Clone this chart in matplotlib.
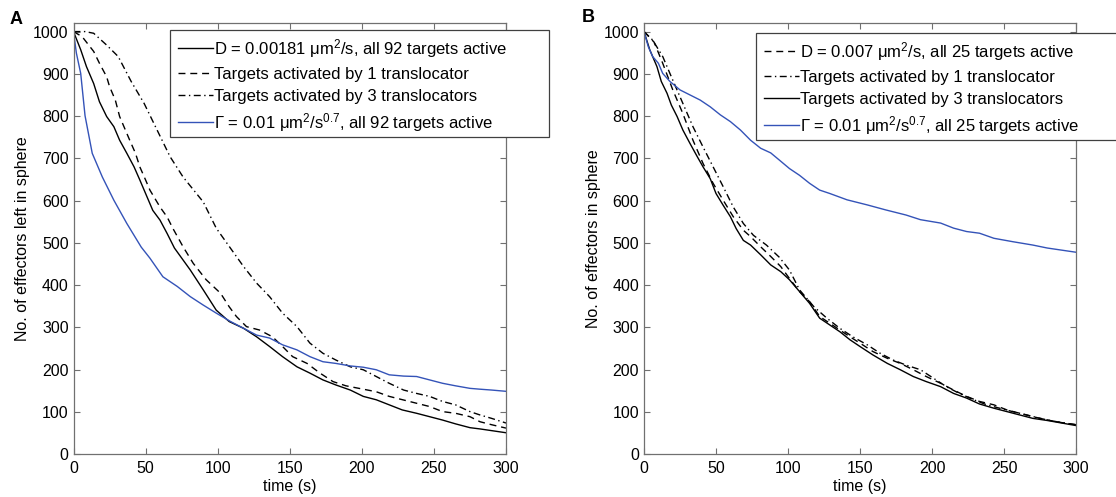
"""
  Effectors left in sphere over time, panels A and B.
"""

import matplotlib
matplotlib.use("Agg")
from matplotlib import pyplot as plt
from matplotlib.patches import Rectangle

plt.rcParams['font.family'] = ['Liberation Sans', 'DejaVu Sans']
plt.rcParams['mathtext.fontset'] = 'custom'
plt.rcParams['mathtext.rm'] = 'Liberation Sans'
plt.rcParams['mathtext.it'] = 'Liberation Sans:italic'
plt.rcParams['mathtext.bf'] = 'Liberation Sans:bold'

BLUE = '#3453b8'
W, H = 1116, 497

# ---- Panel A data (time in s, effectors left) ----
a_d_t = [0, 5, 9, 14, 18, 23, 28, 32, 37, 42, 46, 51, 55, 60, 65, 70, 81,
         90, 99, 108, 118, 127, 136, 145, 155, 164, 173, 182, 192, 201, 210,
         219, 228, 238, 247, 256, 265, 275, 282, 290, 300]
a_d_v = [1000, 957, 917, 877, 834, 799, 775, 743, 712, 680, 649, 609, 577,
         554, 522, 488, 436, 389, 341, 314, 298, 278, 255, 231, 207, 192, 176,
         164, 152, 137, 129, 117, 105, 97, 89, 81, 72, 63, 60, 56, 51]

a_one_t = [0, 6, 14, 18, 23, 25, 29, 32, 36, 39, 43, 46, 50, 53, 60, 65, 69,
           76, 83, 92, 102, 108, 113, 120, 129, 138, 145, 152, 162, 171, 180,
           189, 198, 210, 219, 233, 247, 256, 265, 275, 282, 290, 300]
a_one_v = [1000, 988, 953, 925, 893, 870, 838, 799, 767, 743, 712, 680, 649,
           625, 585, 561, 534, 491, 452, 413, 381, 349, 326, 302, 294, 278,
           255, 231, 215, 192, 172, 162, 156, 148, 137, 125, 113, 101, 97, 89,
           77, 70, 62]

a_three_t = [0, 8, 14, 23, 31, 40, 49, 58, 67, 76, 90, 99, 109, 118, 127,
             136, 145, 155, 164, 173, 182, 192, 201, 210, 219, 229, 238, 247,
             256, 265, 275, 282, 290, 300]
a_three_v = [1000, 1000, 996, 968, 941, 882, 830, 767, 704, 656, 597, 535,
             487, 444, 405, 373, 334, 302, 263, 239, 223, 207, 200, 184, 168,
             152, 144, 137, 125, 117, 101, 93, 85, 74]

a_gam_t = [0, 2, 5, 8, 13, 20, 28, 37, 47, 53, 62, 72, 81, 90, 99, 109, 118,
           127, 136, 145, 155, 164, 173, 182, 192, 201, 210, 219, 229, 238,
           247, 256, 265, 275, 282, 290, 300]
a_gam_v = [1000, 949, 901, 801, 712, 656, 601, 546, 490, 464, 420, 397, 373,
           353, 334, 314, 298, 282, 275, 259, 247, 231, 219, 215, 209, 206,
           200, 188, 185, 184, 176, 168, 162, 156, 154, 152, 149]

# ---- Panel B data ----
b_d_t = [0, 7, 13, 20, 27, 34, 41, 48, 55, 62, 69, 74, 81, 88, 95, 101, 108,
         115, 122, 129, 136, 143, 150, 159, 169, 178, 187, 196, 206, 215, 224,
         233, 243, 252, 261, 270, 282, 290, 300]
b_d_v = [1000, 975, 925, 862, 806, 743, 688, 641, 601, 562, 530, 515, 491,
         468, 444, 416, 385, 361, 326, 310, 294, 278, 263, 243, 227, 215, 200,
         184, 168, 152, 137, 125, 117, 105, 97, 89, 80, 75, 70]

b_one_t = [0, 6, 13, 20, 27, 34, 41, 48, 55, 62, 69, 76, 85, 94, 101, 108,
           118, 127, 136, 145, 155, 164, 173, 182, 192, 201, 210, 219, 229,
           238, 247, 256, 266, 275, 282, 290, 300]
b_one_v = [1000, 980, 941, 885, 830, 775, 727, 680, 633, 585, 546, 518, 495,
           466, 436, 389, 349, 322, 298, 278, 259, 239, 223, 211, 200, 180,
           160, 144, 129, 117, 109, 101, 93, 85, 80, 75, 70]

b_three_t = [0, 4, 9, 12, 16, 19, 23, 27, 32, 37, 41, 46, 50, 55, 60, 64, 69,
             74, 81, 88, 95, 101, 108, 115, 122, 129, 136, 143, 150, 159, 169,
             178, 187, 196, 206, 215, 224, 233, 243, 252, 261, 270, 280, 290,
             300]
b_three_v = [1000, 957, 917, 882, 854, 826, 799, 767, 735, 704, 680, 652, 617,
             589, 562, 534, 506, 495, 472, 448, 432, 413, 385, 357, 322, 306,
             290, 271, 255, 235, 215, 200, 184, 172, 160, 144, 133, 119, 109,
             101, 93, 85, 80, 74, 68]

b_gam_t = [0, 3, 6, 10, 13, 18, 25, 32, 39, 46, 53, 60, 67, 74, 81, 88, 94,
           101, 108, 115, 122, 129, 141, 155, 168, 182, 192, 206, 215, 224,
           233, 243, 256, 270, 280, 290, 300]
b_gam_v = [1000, 964, 941, 925, 901, 882, 862, 850, 838, 822, 803, 787, 767,
           743, 724, 713, 696, 676, 660, 641, 625, 617, 602, 590, 578, 566,
           555, 547, 535, 527, 523, 511, 503, 495, 488, 483, 478]

x_ticks = [0, 50, 100, 150, 200, 250, 300]
y_ticks = [0, 100, 200, 300, 400, 500, 600, 700, 800, 900, 1000]

a_labels = [r'D = 0.00181 μm$^2$/s, all 92 targets active',
            'Targets activated by 1 translocator',
            'Targets activated by 3 translocators',
            r'Γ = 0.01 μm$^2$/s$^{0.7}$, all 92 targets active']
b_labels = [r'D = 0.007 μm$^2$/s, all 25 targets active',
            'Targets activated by 1 translocator',
            'Targets activated by 3 translocators',
            r'Γ = 0.01 μm$^2$/s$^{0.7}$, all 25 targets active']

DASH = (0, (5, 3.5))
DASHDOT = (0, (5, 2.5, 1, 2.5))
LW = 1.0


def style_axis(axis, ylabel):
    """
        Matlab-ish box axes with inward ticks on all sides
    """
    axis.set_xlim(0, 300)
    axis.set_ylim(0, 1021)
    axis.set_xticks(x_ticks)
    axis.set_yticks(y_ticks)
    axis.tick_params(direction='in', length=4, width=0.8, color='#707070',
                     top=True, right=True, labelsize=11.5, labelcolor='black')
    axis.tick_params(axis='x', pad=5)
    axis.tick_params(axis='y', pad=3.5)
    for spine in axis.spines.values():
        spine.set_color('#707070')
        spine.set_linewidth(0.9)
    axis.set_xlabel('time (s)', fontsize=11.5, labelpad=2)
    axis.set_ylabel(ylabel, fontsize=11.5, labelpad=2)


def boxed_legend(fig, handles, labels, box):
    """
        Legend drawn on the figure with a hand-sized frame
        box = (left, top, right, bottom) in pixels from top-left
    """
    left, top, right, bottom = box
    fig.add_artist(Rectangle((left / W, 1 - bottom / H), (right - left) / W,
                             (bottom - top) / H, transform=fig.transFigure,
                             facecolor='white', edgecolor='#404040',
                             linewidth=0.9, zorder=3, clip_on=False))
    fig.legend(handles, labels, loc='upper left',
               bbox_to_anchor=((left + 8) / W, 1 - (top + 7) / H),
               bbox_transform=fig.transFigure, frameon=False, fontsize=12,
               handlelength=2.1, handletextpad=0.08, labelspacing=0.42,
               borderpad=0, borderaxespad=0)


fig = plt.figure(figsize=(W / 100, H / 100), dpi=100)
ax_a = fig.add_axes([73.5 / W, 1 - 454.3 / H, 432.5 / W, 431.6 / H])
ax_b = fig.add_axes([644 / W, 1 - 454.3 / H, 432 / W, 431.6 / H])

# Panel A
la1, = ax_a.plot(a_d_t, a_d_v, color='black', lw=LW, ls='-')
la2, = ax_a.plot(a_one_t, a_one_v, color='black', lw=LW, ls=DASH)
la3, = ax_a.plot(a_three_t, a_three_v, color='black', lw=LW, ls=DASHDOT)
la4, = ax_a.plot(a_gam_t, a_gam_v, color=BLUE, lw=LW)
style_axis(ax_a, 'No. of effectors left in sphere')

# Panel B
lb1, = ax_b.plot(b_d_t, b_d_v, color='black', lw=LW, ls=DASH)
lb2, = ax_b.plot(b_one_t, b_one_v, color='black', lw=LW, ls=DASHDOT)
lb3, = ax_b.plot(b_three_t, b_three_v, color='black', lw=LW, ls='-')
lb4, = ax_b.plot(b_gam_t, b_gam_v, color=BLUE, lw=LW)
style_axis(ax_b, 'No. of effectors in sphere')

boxed_legend(fig, [la1, la2, la3, la4], a_labels, (170, 30, 549, 137))
boxed_legend(fig, [lb1, lb2, lb3, lb4], b_labels, (756, 33, 1130, 140))

fig.text(16 / W, 1 - 19 / H, 'A', fontsize=13, weight='bold',
         ha='center', va='center')
fig.text(588 / W, 1 - 18 / H, 'B', fontsize=13, weight='bold',
         ha='center', va='center')

fig.savefig('out.png', dpi=100)
